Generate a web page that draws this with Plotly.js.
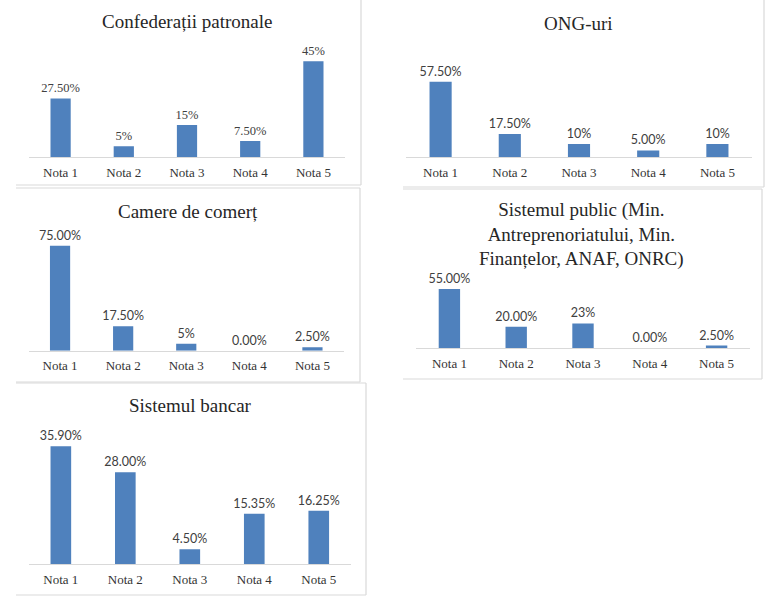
<!DOCTYPE html>
<html>
<head>
<meta charset="utf-8">
<script src="https://cdn.plot.ly/plotly-3.0.1.min.js"></script>
<style>html,body{margin:0;padding:0;background:#fff;}#chart{width:768px;height:600px;}</style>
</head>
<body>
<div id="chart"></div>
<script>
// ---- data ----
const categories = ['Nota 1', 'Nota 2', 'Nota 3', 'Nota 4', 'Nota 5'];

const titleConfederatii = 'Confedera\u021bii patronale';
const valuesConfederatii = [27.5, 5, 15, 7.5, 45];
const labelsConfederatii = ['27.50%', '5%', '15%', '7.50%', '45%'];

const titleONG = 'ONG-uri';
const valuesONG = [57.5, 17.5, 10, 5, 10];
const labelsONG = ['57.50%', '17.50%', '10%', '5.00%', '10%'];

const titleCamere = 'Camere de comer\u021b';
const valuesCamere = [75, 17.5, 5, 0, 2.5];
const labelsCamere = ['75.00%', '17.50%', '5%', '0.00%', '2.50%'];

const titlePublic = 'Sistemul public (Min.<br>Antreprenoriatului, Min.<br>Finan\u021belor, ANAF, ONRC)';
const valuesPublic = [55, 20, 23, 0, 2.5];
const labelsPublic = ['55.00%', '20.00%', '23%', '0.00%', '2.50%'];

const titleBancar = 'Sistemul bancar';
const valuesBancar = [35.9, 28, 4.5, 15.35, 16.25];
const labelsBancar = ['35.90%', '28.00%', '4.50%', '15.35%', '16.25%'];

// ---- layout helpers (pixel -> paper) ----
const W = 768, H = 600;
const px = v => v / W;
const py = v => 1 - v / H;

const BAR = '#4f81bd';
const GRID = '#d9d9d9';
const TXT = '#333333';
const SERIF = 'Liberation Serif';
const SANS = 'Lato';

// panels: plot area in pixels
const panels = [
  {vals: valuesConfederatii, labels: labelsConfederatii, title: titleConfederatii, x0: 29, x1: 345, base: 157, top: 50.5, ymax: 50, tx: 187, ty: 22, lfont: SERIF},
  {vals: valuesONG, labels: labelsONG, title: titleONG, x0: 406, x1: 752, base: 157, top: 65.3, ymax: 70, tx: 578, ty: 23, lfont: SANS},
  {vals: valuesCamere, labels: labelsCamere, title: titleCamere, x0: 28.5, x1: 344, base: 350.7, top: 238.7, ymax: 80, tx: 187.5, ty: 211, lfont: SANS},
  {vals: valuesPublic, labels: labelsPublic, title: titlePublic, x0: 416, x1: 750, base: 348.3, top: 283.5, ymax: 60, tx: 581, ty: 234, lfont: SANS},
  {vals: valuesBancar, labels: labelsBancar, title: titleBancar, x0: 28.6, x1: 351, base: 564, top: 432.8, ymax: 40, tx: 190, ty: 405.7, lfont: SANS}
];

const traces = [];
const layout = {
  width: W, height: H,
  margin: {l: 0, r: 0, t: 0, b: 0},
  paper_bgcolor: '#ffffff',
  plot_bgcolor: 'rgba(0,0,0,0)',
  showlegend: false,
  bargap: 0.68,
  annotations: [],
  shapes: []
};

panels.forEach((p, i) => {
  const n = i === 0 ? '' : String(i + 1);
  traces.push({
    type: 'bar',
    x: categories,
    y: p.vals,
    text: p.labels,
    textposition: 'outside',
    constraintext: 'none',
    cliponaxis: false,
    textfont: {family: p.lfont, size: 12.5, color: '#404040'},
    marker: {color: BAR},
    xaxis: 'x' + n,
    yaxis: 'y' + n,
    hoverinfo: 'x+y'
  });
  layout['xaxis' + n] = {
    domain: [px(p.x0), px(p.x1)],
    anchor: 'y' + n,
    type: 'category',
    showline: true, linecolor: GRID, linewidth: 1,
    showgrid: false, zeroline: false, ticks: '',
    ticklabelstandoff: 3,
    tickfont: {family: SERIF, size: 13, color: TXT},
    fixedrange: true
  };
  layout['yaxis' + n] = {
    domain: [py(p.base), py(p.top)],
    anchor: 'x' + n,
    range: [0, p.ymax],
    visible: false,
    showgrid: false, zeroline: false,
    fixedrange: true
  };
  layout.annotations.push({
    xref: 'paper', yref: 'paper',
    x: px(p.tx), y: py(p.ty),
    xanchor: 'center', yanchor: 'middle',
    text: p.title, showarrow: false,
    font: {family: SERIF, size: 19, color: '#262626'}
  });
});

// panel frame lines (pixels)
const frameLines = [
  [16, 185, 361, 185], [361, 0, 361, 185],
  [403, 187, 764, 187], [764, 0, 764, 187],
  [16, 188, 360, 188], [360, 188, 360, 382], [16, 382, 360, 382],
  [403, 189, 762, 189], [762, 189, 762, 379], [403, 379, 762, 379],
  [16, 383, 366, 383], [366, 383, 366, 595], [16, 595, 366, 595]
];
frameLines.forEach(l => {
  layout.shapes.push({
    type: 'line', xref: 'paper', yref: 'paper',
    x0: px(l[0]), y0: py(l[1]), x1: px(l[2]), y1: py(l[3]),
    line: {color: '#d9d9d9', width: 1.2}
  });
});

Plotly.newPlot('chart', traces, layout, {displayModeBar: false, staticPlot: true});
</script>
</body>
</html>
